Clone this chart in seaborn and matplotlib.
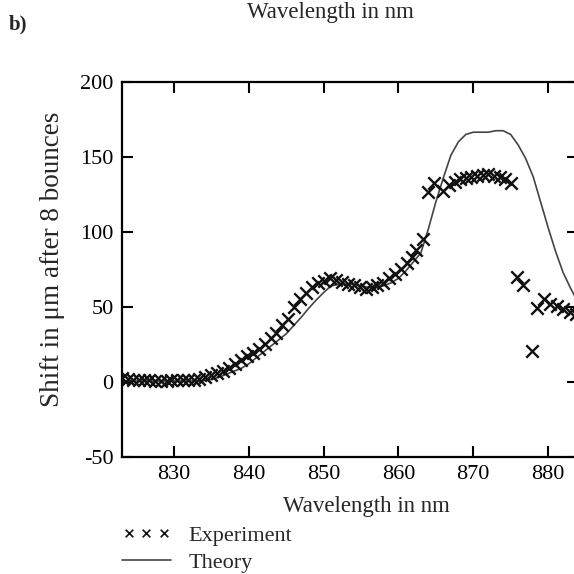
import matplotlib
matplotlib.use('Agg')
import matplotlib.pyplot as plt
import seaborn as sns

# Measured shift (crosses)
exp_wl = [823.1, 823.8, 824.5, 825.3, 826.0, 826.7, 827.4, 828.2, 829.0, 829.6,
          830.4, 831.2, 831.9, 832.7, 833.4, 834.1, 834.9, 835.7, 836.5, 837.3,
          838.1, 838.9, 839.7, 840.5, 841.3, 842.1, 842.9, 843.6, 844.4, 845.2,
          846.0, 846.8, 847.6, 848.4, 849.2, 850.0, 850.8, 851.6, 852.4, 853.2,
          854.0, 854.8, 855.6, 856.4, 857.2, 858.0, 858.8, 859.6, 860.4, 861.1,
          861.8, 862.4, 863.3, 864.0, 864.8, 865.9, 866.7, 867.5, 868.2, 869.0,
          869.7, 870.5, 871.3, 872.0, 872.8, 873.6, 874.3, 875.1, 875.9, 876.7,
          877.9, 878.5, 879.4, 880.3, 881.2, 882.0, 882.9, 883.7]
exp_shift = [2.5, 2, 1, 1.5, 1, 1, 0.5, 0.5, 0.5, 1,
             1, 1, 1.5, 1.5, 2, 3, 4.5, 6, 7.5, 9.5,
             12, 14.5, 17, 19.5, 22, 25, 29, 32.5, 38, 42,
             50, 55, 59.5, 63.5, 66, 67, 69, 68, 66.5, 65,
             64.5, 63, 62, 63, 64.5, 66, 69, 72, 75.5, 79,
             83, 88, 95, 126.5, 132.5, 127.5, 131, 133, 135, 136,
             136.5, 137.5, 138, 138.5, 137.5, 136.5, 135.5, 132.5, 70, 64.5,
             20.5, 49.5, 55.5, 52, 50.5, 48.5, 46.5, 45]

# Calculated shift (line)
theory_wl = list(range(823, 885))
theory_shift = [0.5, 0.5, 0.5, 0.5, 0.5, 0.5, 0.5, 0.5, 0.5, 0.5,
                0.5, 0.8, 1.5, 3, 5, 7, 9, 12, 16, 20,
                24, 28, 32, 37.5, 43, 49, 54.5, 59.5, 64, 65,
                65, 65, 64, 63, 63, 64, 66, 69, 74, 80,
                86, 102, 120, 136, 151, 160, 165, 166.5, 166.5, 166.5,
                167.5, 167.5, 165, 158, 149, 137, 120, 103, 87, 73,
                62.5, 53]

sns.set_style('ticks')
plt.rcParams['font.family'] = ['Liberation Serif', 'DejaVu Serif']
plt.rcParams['axes.unicode_minus'] = False

fig = plt.figure(figsize=(5.74, 5.74), dpi=100)
ax = fig.add_axes([122 / 574, 1 - 456.7 / 574, 456 / 574, 374.7 / 574])

sns.lineplot(x=theory_wl, y=theory_shift, color='#444444', linewidth=1.2,
             ax=ax, label='Theory')
sns.scatterplot(x=exp_wl, y=exp_shift, marker='x', s=80, color='#111111',
                linewidth=1.7, ax=ax, label='Experiment', zorder=3)

ax.set_xlim(823.05, 884.0)
ax.set_ylim(-50, 200)
ax.set_xticks([830, 840, 850, 860, 870, 880])
ax.set_yticks([-50, 0, 50, 100, 150, 200])
ax.tick_params(direction='in', length=8, width=1.5, labelsize=16, pad=6,
               top=True, right=True, colors='black')
for s in ax.spines.values():
    s.set_linewidth(1.6)
    s.set_color('black')

ax.set_xlabel('Wavelength in nm', fontsize=16.5)
ax.xaxis.set_label_coords(0.535, -0.105)
ax.set_ylabel('Shift in \u03bcm after 8 bounces', fontsize=19.5)
ax.yaxis.set_label_coords(-0.125, 0.528)

handles, labels = ax.get_legend_handles_labels()
leg = ax.legend([handles[1], handles[0]], [labels[1], labels[0]],
                loc='upper left', bbox_to_anchor=(122 / 574, 1 - 525 / 574),
                bbox_transform=fig.transFigure, frameon=False, fontsize=16,
                handlelength=2.2, handletextpad=0.8, labelspacing=0.3,
                borderpad=0, borderaxespad=0, scatterpoints=3,
                scatteryoffsets=[0.5])
leg.legend_handles[0].set_sizes([30])
leg.legend_handles[0].set_linewidth(1.2)

fig.text(9 / 574, 1 - 29 / 574, 'b)', fontsize=15, fontweight='bold',
         va='baseline')
fig.text(330 / 574, 1 - 18 / 574, 'Wavelength in nm', fontsize=16.5,
         ha='center', va='baseline')

fig.savefig('out.png', dpi=100)
